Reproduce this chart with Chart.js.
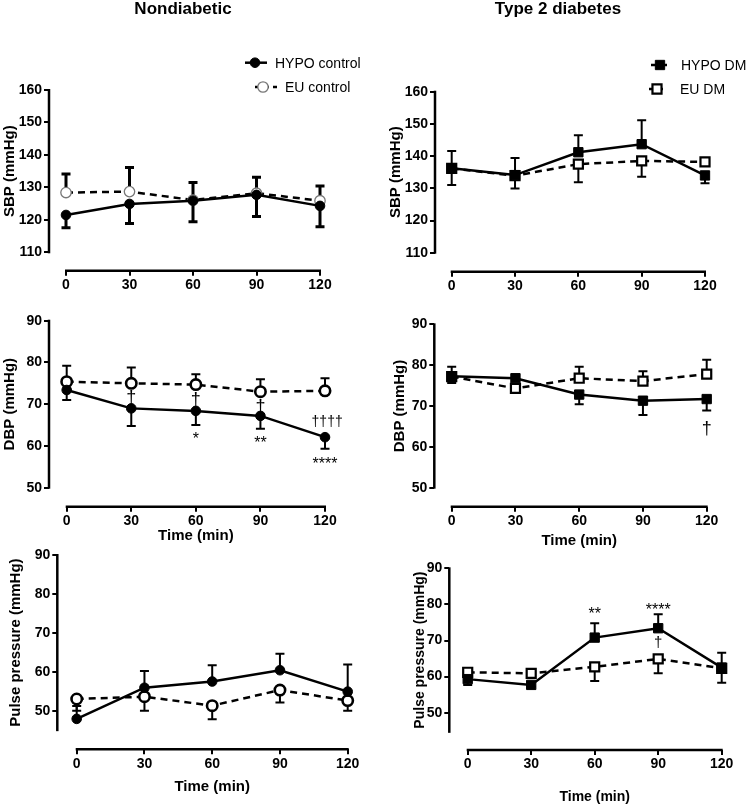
<!DOCTYPE html>
<html>
<head>
<meta charset="utf-8">
<script src="https://cdn.jsdelivr.net/npm/chart.js@4.4.1/dist/chart.umd.min.js"></script>
<style>
  html, body { margin: 0; padding: 0; background: #fff; }
  #wrap { position: relative; width: 748px; height: 806px; }
  #wrap canvas { position: absolute; left: 0; top: 0; }
</style>
</head>
<body>
<div id="wrap">
  <canvas id="sbpCtrl" width="748" height="806"></canvas>
  <canvas id="sbpDm" width="748" height="806"></canvas>
  <canvas id="dbpCtrl" width="748" height="806"></canvas>
  <canvas id="dbpDm" width="748" height="806"></canvas>
  <canvas id="ppCtrl" width="748" height="806"></canvas>
  <canvas id="ppDm" width="748" height="806"></canvas>
</div>
<script>
const times = [0, 30, 60, 90, 120];
const xTicks = [0, 30, 60, 90, 120];
const sbpTicks = [110, 120, 130, 140, 150, 160];
const dbpTicks = [50, 60, 70, 80, 90];
const ppTicks = [50, 60, 70, 80, 90];

// means, and signed error bar length (+ up, - down) as drawn
const sbpHypoCtrl = [121.5, 124.9, 125.9, 127.7, 124.3];
const sbpHypoCtrlErr = [-3.9, -6.0, -6.5, -6.7, -6.4];
const sbpEuCtrl = [128.4, 128.7, 126.1, 128.2, 125.9];
const sbpEuCtrlErr = [5.7, 7.4, 5.4, 4.9, 4.5];

const sbpHypoDm = [136.2, 134.1, 141.2, 143.7, 134.0];
const sbpHypoDmErr = [5.4, 5.3, 5.3, 7.4, -2.4];
const sbpEuDm = [136.2, 133.9, 137.5, 138.5, 138.2];
const sbpEuDmErr = [-5.2, -4.0, -5.6, -4.9, 0.7];

const dbpHypoCtrl = [73.4, 69.0, 68.4, 67.2, 62.1];
const dbpHypoCtrlErr = [-2.4, -4.2, -3.4, -3.1, -2.8];
const dbpEuCtrl = [75.4, 75.0, 74.7, 73.0, 73.2];
const dbpEuCtrlErr = [3.8, 3.8, 2.5, 3.0, 3.0];

const dbpHypoDm = [77.3, 76.8, 72.8, 71.3, 71.7];
const dbpHypoDmErr = [-1.7, -0.5, -2.4, -3.5, -2.8];
const dbpEuDm = [77.2, 74.3, 76.8, 76.1, 77.8];
const dbpEuDmErr = [2.4, 0.5, 2.8, 2.4, 3.5];

const ppHypoCtrl = [47.9, 55.9, 57.5, 60.4, 54.9];
const ppHypoCtrlErr = [3.3, 4.3, 4.2, 4.2, 7.0];
const ppEuCtrl = [53.0, 53.6, 51.3, 55.3, 52.6];
const ppEuCtrlErr = [-3.0, -3.6, -3.5, -3.2, -2.6];

const ppHypoDm = [59.3, 57.7, 70.8, 73.4, 62.5];
const ppHypoDmErr = [-1.6, -0.5, 4.0, 3.9, 4.1];
const ppEuDm = [61.2, 60.9, 62.7, 64.9, 62.3];
const ppEuDmErr = [1.1, -0.5, -3.9, -4.0, -4.0];

// significance marks (x in min, y in mmHg at the glyph centre)
const dbpCtrlMarks = [
  { x: 30, y: 71.6, text: "†", size: 18 },
  { x: 60, y: 71.0, text: "†", size: 18 },
  { x: 90, y: 69.5, text: "†", size: 18 },
  { x: 121, y: 65.7, text: "††††", size: 14 },
  { x: 60, y: 62.7, text: "*", size: 16 },
  { x: 90, y: 61.7, text: "**", size: 16 },
  { x: 120, y: 56.7, text: "****", size: 16 }
];
const dbpDmMarks = [
  { x: 120, y: 64.4, text: "†", size: 18 }
];
const ppDmMarks = [
  { x: 60, y: 78.6, text: "**", size: 16 },
  { x: 90, y: 79.6, text: "****", size: 16 },
  { x: 90, y: 69.4, text: "†", size: 15 }
];

const W = 748, H = 806;
const FONT = "'Liberation Sans', Arial, Helvetica, sans-serif";

function pts(values) {
  return values.map((v, i) => ({ x: times[i], y: v }));
}

function hypoCtrlStyle() {
  return { pointStyle: "circle", pointRadius: 4.8, backgroundColor: "#000", borderColor: "#000", pointBorderWidth: 1, borderWidth: 2.5, borderDash: [] };
}
function euCtrlStyle(color, bw) {
  return { pointStyle: "circle", pointRadius: 5.2, backgroundColor: "#fff", pointBorderColor: color, borderColor: "#000", pointBorderWidth: bw, borderWidth: 2.5, borderDash: [7, 5] };
}
function hypoDmStyle() {
  return { pointStyle: "rect", pointRadius: 6.6, backgroundColor: "#000", borderColor: "#000", pointBorderWidth: 1, borderWidth: 2.5, borderDash: [] };
}
function euDmStyle() {
  return { pointStyle: "rect", pointRadius: 6.4, backgroundColor: "#fff", pointBorderColor: "#000", borderColor: "#000", pointBorderWidth: 2.2, borderWidth: 2.5, borderDash: [7, 5] };
}

const prismPlugin = {
  id: "prism",
  beforeDatasetsDraw(chart, args, opts) {
    const { ctx } = chart;
    const xs = chart.scales.x, ys = chart.scales.y;
    ctx.save();
    ctx.strokeStyle = "#000";
    ctx.lineWidth = opts.errWidth || 2;
    chart.data.datasets.forEach((ds) => {
      (ds.errors || []).forEach((e, i) => {
        if (!e) return;
        const pt = ds.data[i];
        const px = xs.getPixelForValue(pt.x);
        const y0 = ys.getPixelForValue(pt.y);
        const y1 = ys.getPixelForValue(pt.y + e);
        ctx.beginPath();
        ctx.moveTo(px, y0);
        ctx.lineTo(px, y1);
        ctx.moveTo(px - 4.5, y1);
        ctx.lineTo(px + 4.5, y1);
        ctx.stroke();
      });
    });
    ctx.restore();
  },
  afterDatasetsDraw(chart, args, opts) {
    const { ctx } = chart;
    const xs = chart.scales.x, ys = chart.scales.y;
    ctx.save();
    ctx.fillStyle = "#000";
    ctx.textAlign = "center";
    ctx.textBaseline = "alphabetic";
    (opts.marks || []).forEach((m) => {
      const k = m.text[0] === "*" ? 0.58 : 0.29;
      ctx.font = `${m.size}px ${FONT}`;
      ctx.fillText(m.text, xs.getPixelForValue(m.x), ys.getPixelForValue(m.y) + k * m.size);
    });
    ctx.restore();
  },
  afterDraw(chart, args, opts) {
    const { ctx, chartArea } = chart;
    const xs = chart.scales.x, ys = chart.scales.y;
    ctx.save();
    ctx.strokeStyle = "#000";
    ctx.fillStyle = "#000";
    ctx.lineWidth = 2.5;

    // detached axis lines
    const yTopPx = ys.getPixelForValue(opts.yLineTop);
    const yBotPx = ys.getPixelForValue(opts.yLineBottom);
    ctx.beginPath();
    ctx.moveTo(chartArea.left, yTopPx - 1);
    ctx.lineTo(chartArea.left, yBotPx + 1);
    ctx.stroke();
    const x0 = xs.getPixelForValue(xTicks[0]);
    const x1 = xs.getPixelForValue(xTicks[xTicks.length - 1]);
    ctx.beginPath();
    ctx.moveTo(x0 - 1, chartArea.bottom);
    ctx.lineTo(x1 + 1, chartArea.bottom);
    ctx.stroke();

    // axis titles
    ctx.textAlign = "center";
    ctx.textBaseline = "middle";
    ctx.font = `bold ${opts.titleSize}px ${FONT}`;
    ctx.save();
    ctx.translate(opts.yTitleX, (yTopPx + yBotPx) / 2);
    ctx.rotate(-Math.PI / 2);
    ctx.fillText(opts.yTitle, 0, 0);
    ctx.restore();
    if (opts.xTitle) ctx.fillText(opts.xTitle, (x0 + x1) / 2, opts.xTitleY);

    if (opts.heading) {
      ctx.font = `bold 17px ${FONT}`;
      ctx.fillText(opts.heading.text, opts.heading.x, opts.heading.y);
    }

    // legend
    (opts.legend || []).forEach((item) => {
      const ds = chart.data.datasets[item.ds];
      ctx.save();
      ctx.lineWidth = 2.5;
      ctx.setLineDash(ds.borderDash.length ? [5, 4] : []);
      ctx.beginPath();
      ctx.moveTo(item.x1, item.y);
      ctx.lineTo(item.x2, item.y);
      ctx.stroke();
      ctx.setLineDash([]);
      ctx.fillStyle = ds.backgroundColor;
      ctx.strokeStyle = ds.pointBorderColor || "#000";
      ctx.lineWidth = ds.pointBorderWidth;
      Chart.helpers.drawPoint(ctx, { pointStyle: ds.pointStyle, radius: ds.pointRadius, rotation: 0, borderWidth: ds.pointBorderWidth }, item.mx, item.y);
      ctx.restore();
      ctx.textAlign = "left";
      ctx.font = `14px ${FONT}`;
      ctx.fillText(ds.label, item.tx, item.y + 1);
    });
    ctx.restore();
  }
};

const panels = [
  {
    id: "sbpCtrl",
    geom: { left: 49, x0: 66, x120: 320, topPx: 90, botPx: 252.3, bottom: 270.7 },
    yTicks: sbpTicks, yLineBottom: 110, yTitle: "SBP (mmHg)", yTitleX: 10, titleSize: 15,
    heading: { text: "Nondiabetic", x: 183, y: 9 }, errWidth: 3,
    series: [
      { label: "HYPO control", data: sbpHypoCtrl, err: sbpHypoCtrlErr, style: hypoCtrlStyle() },
      { label: "EU control", data: sbpEuCtrl, err: sbpEuCtrlErr, style: euCtrlStyle("#777", 1.3) }
    ],
    legend: [
      { ds: 0, x1: 245, x2: 267, mx: 255, tx: 275, y: 62.7 },
      { ds: 1, x1: 255, x2: 277, mx: 263, tx: 285, y: 87 }
    ]
  },
  {
    id: "sbpDm",
    geom: { left: 435, x0: 451.7, x120: 705, topPx: 91.7, botPx: 252.7, bottom: 271.7 },
    yTicks: sbpTicks, yLineBottom: 110, yTitle: "SBP (mmHg)", yTitleX: 396, titleSize: 15,
    heading: { text: "Type 2 diabetes", x: 558, y: 9 }, errWidth: 2,
    series: [
      { label: "HYPO DM", data: sbpHypoDm, err: sbpHypoDmErr, style: hypoDmStyle() },
      { label: "EU DM", data: sbpEuDm, err: sbpEuDmErr, style: euDmStyle() }
    ],
    legend: [
      { ds: 0, x1: 651, x2: 667, mx: 660, tx: 681, y: 65 },
      { ds: 1, x1: 649, x2: 667, mx: 657, tx: 680, y: 89 }
    ]
  },
  {
    id: "dbpCtrl",
    geom: { left: 49, x0: 66.7, x120: 325, topPx: 320.7, botPx: 487.7, bottom: 506.7 },
    yTicks: dbpTicks, yLineBottom: 50, yTitle: "DBP (mmHg)", yTitleX: 10, titleSize: 15,
    xTitle: "Time (min)", xTitleY: 536, errWidth: 2, marks: dbpCtrlMarks,
    series: [
      { label: "HYPO control", data: dbpHypoCtrl, err: dbpHypoCtrlErr, style: hypoCtrlStyle() },
      { label: "EU control", data: dbpEuCtrl, err: dbpEuCtrlErr, style: euCtrlStyle("#000", 2.6) }
    ]
  },
  {
    id: "dbpDm",
    geom: { left: 434.3, x0: 451.7, x120: 706.7, topPx: 324.3, botPx: 487.7, bottom: 506.7 },
    yTicks: dbpTicks, yLineBottom: 50, yTitle: "DBP (mmHg)", yTitleX: 400, titleSize: 15,
    xTitle: "Time (min)", xTitleY: 541, errWidth: 2, marks: dbpDmMarks,
    series: [
      { label: "HYPO DM", data: dbpHypoDm, err: dbpHypoDmErr, style: hypoDmStyle() },
      { label: "EU DM", data: dbpEuDm, err: dbpEuDmErr, style: euDmStyle() }
    ]
  },
  {
    id: "ppCtrl",
    geom: { left: 57.3, x0: 76.7, x120: 347.7, topPx: 555, botPx: 710.7, bottom: 749.3 },
    yTicks: ppTicks, yLineBottom: 45, yTitle: "Pulse pressure (mmHg)", yTitleX: 16, titleSize: 15,
    xTitle: "Time (min)", xTitleY: 787, errWidth: 2,
    series: [
      { label: "HYPO control", data: ppHypoCtrl, err: ppHypoCtrlErr, style: hypoCtrlStyle() },
      { label: "EU control", data: ppEuCtrl, err: ppEuCtrlErr, style: euCtrlStyle("#000", 2.6) }
    ]
  },
  {
    id: "ppDm",
    geom: { left: 449.3, x0: 467.7, x120: 721.7, topPx: 568.3, botPx: 712.7, bottom: 750 },
    yTicks: ppTicks, yLineBottom: 44.7, yTitle: "Pulse pressure (mmHg)", yTitleX: 420, titleSize: 14,
    xTitle: "Time (min)", xTitleY: 797, errWidth: 2, marks: ppDmMarks,
    series: [
      { label: "HYPO DM", data: ppHypoDm, err: ppHypoDmErr, style: hypoDmStyle() },
      { label: "EU DM", data: ppEuDm, err: ppEuDmErr, style: euDmStyle() }
    ]
  }
];

function makeChart(p) {
  const g = p.geom;
  const YW = 40, XH = 30;
  const ppx = (g.x120 - g.x0) / 120;
  const xMin = -(g.x0 - g.left) / ppx;
  const right = g.x120 + 12;
  const xMax = 120 + 12 / ppx;
  const yTop = p.yTicks[p.yTicks.length - 1];
  const yBot = p.yTicks[0];
  const ppy = (g.botPx - g.topPx) / (yTop - yBot);
  const yMin = yBot - (g.bottom - g.botPx) / ppy;

  const tickFont = { family: FONT, size: 14, weight: "bold" };
  const grid = { display: true, drawOnChartArea: false, drawTicks: true, tickLength: 5, lineWidth: 2, color: "#000" };

  return new Chart(document.getElementById(p.id), {
    type: "line",
    data: {
      datasets: p.series.map((s) => Object.assign({
        label: s.label,
        data: pts(s.data),
        errors: s.err,
        fill: false,
        tension: 0,
        clip: false,
        pointHoverRadius: s.style.pointRadius
      }, s.style))
    },
    options: {
      responsive: false,
      animation: false,
      events: [],
      layout: { padding: { left: g.left - YW, top: g.topPx, right: W - right, bottom: H - g.bottom - XH } },
      plugins: {
        legend: { display: false },
        tooltip: { enabled: false },
        prism: {
          yLineTop: yTop, yLineBottom: p.yLineBottom,
          yTitle: p.yTitle, yTitleX: p.yTitleX, titleSize: p.titleSize,
          xTitle: p.xTitle, xTitleY: p.xTitleY,
          heading: p.heading, legend: p.legend, marks: p.marks, errWidth: p.errWidth
        }
      },
      scales: {
        x: {
          type: "linear", min: xMin, max: xMax,
          afterBuildTicks: (s) => { s.ticks = xTicks.map((v) => ({ value: v })); },
          afterFit: (s) => { s.height = XH; },
          grid, border: { display: false },
          ticks: { color: "#000", font: tickFont, padding: 1, maxRotation: 0, autoSkip: false }
        },
        y: {
          type: "linear", min: yMin, max: yTop,
          afterBuildTicks: (s) => { s.ticks = p.yTicks.map((v) => ({ value: v })); },
          afterFit: (s) => { s.width = YW; },
          grid, border: { display: false },
          ticks: { color: "#000", font: tickFont, padding: 2, autoSkip: false }
        }
      }
    },
    plugins: [prismPlugin]
  });
}

panels.forEach(makeChart);
</script>
</body>
</html>
